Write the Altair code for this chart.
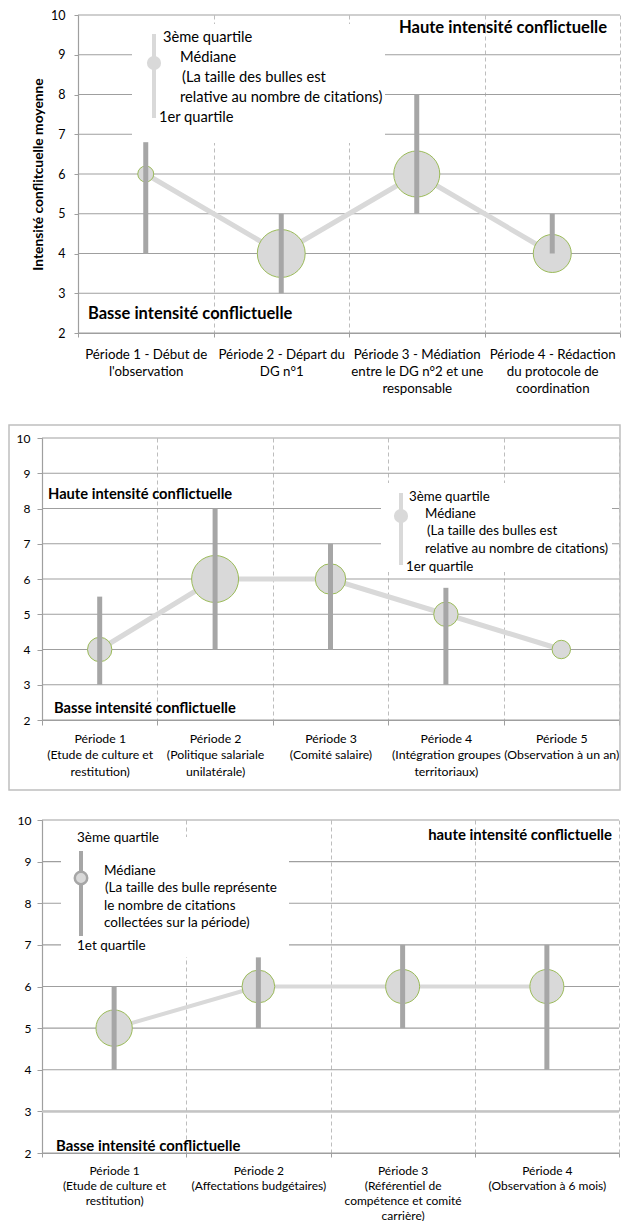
import altair as alt
import pandas as pd

FONT = "Lato"
GRID = "#9f9f9f"
DASH = "#bdbdbd"
LINE = "#d9d9d9"
BAR = "#a6a6a6"
BSTROKE = "#9bbb59"
TXT = "#000000"

# ---------------- data ----------------
p1_periods = ["Période 1 - Début de|l'observation",
              "Période 2 - Départ du|DG n°1",
              "Période 3 - Médiation|entre le DG n°2 et une|responsable",
              "Période 4 - Rédaction|du protocole de|coordination"]
p1_median = [6, 4, 6, 4]
p1_q1 = [4, 3, 5, 4]
p1_q3 = [6.8, 5, 8, 5]
p1_citations = [3, 27, 25, 17]

p2_periods = ["Période 1|(Etude de culture et|restitution)",
              "Période 2|(Politique salariale|unilatérale)",
              "Période 3|(Comité salaire)",
              "Période 4|(Intégration groupes|territoriaux)",
              "Période 5|(Observation à un an)"]
p2_median = [4, 6, 6, 5, 4]
p2_q1 = [3, 4, 4, 3, 4]
p2_q3 = [5.5, 8, 7, 5.75, 4]
p2_citations = [7, 26, 11, 7, 4]

p3_periods = ["Période 1|(Etude de culture et|restitution)",
              "Période 2|(Affectations budgétaires)",
              "Période 3|(Référentiel de|compétence et comité|carrière)",
              "Période 4|(Observation à 6 mois)"]
p3_median = [5, 6, 6, 6]
p3_q1 = [4, 5, 5, 4]
p3_q3 = [6, 6.7, 7, 7]
p3_citations = [16, 13, 14, 14]
p3_light_grid = [3]

y_ticks = [2, 3, 4, 5, 6, 7, 8, 9, 10]

ONE = pd.DataFrame({"k": [0]})


def text_layer(txt, x, y, size, bold=False, align="left"):
    return alt.Chart(ONE).mark_text(
        text=txt, align=align, baseline="middle", font=FONT, fontSize=size,
        fontWeight="bold" if bold else "normal", color=TXT
    ).encode(x=alt.value(x), y=alt.value(y))


def rect_layer(x1, x2, y1, y2, **kw):
    return alt.Chart(ONE).mark_rect(**kw).encode(
        x=alt.value(x1), x2=alt.value(x2), y=alt.value(y1), y2=alt.value(y2))


def rule_layer(x, y1, y2, color, width):
    return alt.Chart(ONE).mark_rule(color=color, strokeWidth=width).encode(
        x=alt.value(x), y=alt.value(y1), y2=alt.value(y2))


def dot_layer(x, y, diam, fill, stroke=None, sw=0):
    kw = dict(size=3.1416 * diam * diam / 4, color=fill, opacity=1)
    if stroke:
        kw.update(stroke=stroke, strokeWidth=sw)
    return alt.Chart(ONE).mark_circle(**kw).encode(x=alt.value(x), y=alt.value(y))


def panel(cats, med, q1, q3, cit, W, H, left, max_diam, ytitle, ylab_size, ytick, ypad,
          xlab_size, xlh, xtick, xpad, line_w, annotations, frame, light_grid=None):
    """left: pixel where this panel's plot region (y axis) starts inside the view."""
    df = pd.DataFrame({"cat": cats, "med": med, "q1": q1, "q3": q3, "cit": cit})
    xaxis = alt.Axis(title=None, tickBand="extent", grid=True, gridDash=[4, 3],
                     gridColor=DASH, gridWidth=1, domainColor=GRID, domainWidth=1.2,
                     tickColor=GRID, tickSize=xtick, labelAngle=0,
                     labelExpr="split(datum.label, '|')", labelFont=FONT,
                     labelFontSize=xlab_size, labelLineHeight=xlh, labelPadding=xpad,
                     labelBaseline="top", labelColor=TXT, labelLimit=400,
                     labelOverlap=False)
    yaxis_kw = dict(values=y_ticks, grid=False, domainColor=GRID, domainWidth=1.2,
                    tickColor=GRID, tickSize=ytick, labelFont=FONT,
                    labelFontSize=ylab_size, labelPadding=ypad, labelColor=TXT)
    if left:
        yaxis_kw.update(offset=-left)
    if ytitle:
        yaxis_kw.update(title=ytitle, titleFont=FONT, titleFontSize=13.8,
                        titleFontWeight="bold", titleColor=TXT, titlePadding=5)
    else:
        yaxis_kw.update(title=None)
    yaxis = alt.Axis(**yaxis_kw)
    xs = alt.Scale(type="band", paddingInner=0, paddingOuter=0, range=[left, W])
    ys = alt.Scale(domain=[2, 10], nice=False, zero=False)
    X = alt.X("cat:N", sort=cats, scale=xs, axis=xaxis)
    max_area = 3.1416 * max_diam * max_diam / 4

    grid = alt.Chart(pd.DataFrame({"v": y_ticks})).mark_rule(
        color=GRID, strokeWidth=1.2).encode(
        x=alt.value(left), x2=alt.value(W), y=alt.Y("v:Q", scale=ys, axis=yaxis))
    layers_grid = [grid]
    if light_grid:
        layers_grid.append(alt.Chart(pd.DataFrame({"v": light_grid})).mark_rule(
            color="#c4c4c4", strokeWidth=2.5).encode(
            x=alt.value(left), x2=alt.value(W), y=alt.Y("v:Q", scale=ys, axis=yaxis)))

    base = alt.Chart(df)
    line = base.mark_line(color=LINE, strokeWidth=line_w).encode(
        x=X, y=alt.Y("med:Q", scale=ys, axis=yaxis))
    bubbles = base.mark_circle(color=LINE, opacity=1, stroke=BSTROKE, strokeWidth=1).encode(
        x=X, y=alt.Y("med:Q", scale=ys, axis=yaxis),
        size=alt.Size("cit:Q", scale=alt.Scale(domain=[0, max(cit)], range=[0, max_area]),
                      legend=None))
    bars = base.mark_rule(color=BAR, strokeWidth=5).encode(
        x=X, y=alt.Y("q1:Q", scale=ys, axis=yaxis), y2="q3:Q")

    fx1, fx2, fy1, fy2 = frame
    fr = rect_layer(fx1, fx2, fy1, fy2, opacity=0)
    layers = [fr] + layers_grid + annotations + [line, bubbles, bars]
    return alt.layer(*layers).properties(width=W, height=H)


# all views share the same origin at page x = 42; right edge kept at page x 621
# ---------- panel 1 (axis at page x 78 -> offset 36, y 15) ----------
L1 = 36
W1, H1 = 578, 318
ann1 = [
    rect_layer(L1 + 54, L1 + 307, 9, 128, color="white", opacity=1),
    rule_layer(L1 + 76, 19, 103, LINE, 4),
    dot_layer(L1 + 76, 48, 16, LINE),
    text_layer("3ème quartile", L1 + 85, 23, 14.7),
    text_layer("Médiane", L1 + 102, 43, 14.7),
    text_layer("(La taille  des bulles est", L1 + 104, 63, 14.7),
    text_layer("relative au nombre de citations)", L1 + 102, 83, 14.7),
    text_layer("1er quartile", L1 + 81, 103, 14.7),
    text_layer("Haute intensité conflictuelle", L1 + 529, 13, 16.6, bold=True, align="right"),
    text_layer("Basse intensité conflictuelle", L1 + 10, 299, 16.5, bold=True),
]
c1 = panel(p1_periods, p1_median, p1_q1, p1_q3, p1_citations, W1, H1, L1, 54,
           "Intensité conflitcuelle moyenne", 12.5, 4, 9, 13.3, 17, 4, 10, 5, ann1,
           (-34, 579, -7, H1 + 85))

# ---------- panel 2 (plot at page x 42, y 438) ----------
W2, H2 = 577, 282
ann2 = [
    rect_layer(-33, 578, -13, 352, fillOpacity=0, stroke="#bfbfbf", strokeWidth=1.5),
    rect_layer(339, 570, 45, 134, color="white", opacity=1),
    rule_layer(359, 55, 127, LINE, 4),
    dot_layer(359, 78, 16, LINE),
    text_layer("3ème quartile", 367, 59, 13.3),
    text_layer("Médiane", 383, 76, 13.3),
    text_layer("(La taille  des bulles est", 385, 93, 13.3),
    text_layer("relative au nombre de citations)", 383, 111, 13.3),
    text_layer("1er quartile", 364, 129, 13.3),
    text_layer("Haute intensité conflictuelle", 6, 57, 14.7, bold=True),
    text_layer("Basse intensité conflictuelle", 12, 271, 14.7, bold=True),
]
c2 = panel(p2_periods, p2_median, p2_q1, p2_q3, p2_citations, W2, H2, 0, 53,
           None, 12, 5, 7, 12.3, 16.5, 5, 7, 5, ann2,
           (-34, 579, -20, H2 + 80))

# ---------- panel 3 (plot at page x 42, y 820) ----------
W3, H3 = 577, 333
ann3 = [
    rect_layer(19, 247, 17, 137, color="white", opacity=1),
    rule_layer(39, 31, 116, BAR, 4),
    dot_layer(39, 58, 14, LINE, BAR, 2.5),
    text_layer("3ème quartile", 35, 18, 13.5),
    text_layer("Médiane", 62, 51, 13.5),
    text_layer("(La taille  des bulle représente", 63, 68, 13.5),
    text_layer("le nombre de citations", 62, 86, 13.5),
    text_layer("collectées sur la période)", 62, 103, 13.5),
    text_layer("1et quartile", 35, 126, 13.5),
    text_layer("haute intensité conflictuelle", 570, 16, 14.9, bold=True, align="right"),
    text_layer("Basse intensité conflictuelle", 14, 327, 14.9, bold=True),
]
c3 = panel(p3_periods, p3_median, p3_q1, p3_q3, p3_citations, W3, H3, 0, 41,
           None, 12, 5, 6, 12, 15, 4, 8, 4, ann3,
           (-34, 579, -20, H3 + 67), light_grid=p3_light_grid)

chart = alt.vconcat(c1, c2, c3, spacing=0).resolve_scale(
    x="independent", y="independent", size="independent"
).properties(padding=0).configure_view(strokeWidth=0)

chart.save("out.html", embed_options={"renderer": "svg", "actions": False})
